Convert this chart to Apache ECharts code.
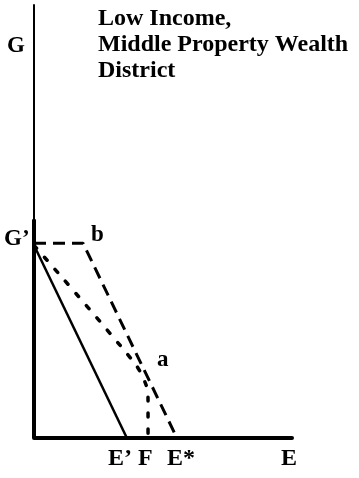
<!DOCTYPE html>
<html>
<head>
<meta charset="utf-8">
<script src="https://cdn.jsdelivr.net/npm/echarts@6/dist/echarts.min.js"></script>
<style>
  html, body { margin: 0; padding: 0; background: #fff; }
  #chart { width: 359px; height: 478px; }
</style>
</head>
<body>
<div id="chart"></div>
<script>
// budget lines, in E (x) / G (y) units
var solidLine = [[0, 44.5], [36, 0]];
var dottedLine = [[0, 44.5], [39, 17.3], [43.6, 12], [44.2, 8.5], [44.2, 0]];
var dashedLine = [[0, 45], [19, 45], [55.4, 0]];
var gAxisThick = [[0, 0], [0, 50.5]];
var titleLines = ['Low Income,', 'Middle Property Wealth', 'District'];

var font = '"Liberation Serif", "Times New Roman", serif';

var myChart = echarts.init(document.getElementById('chart'));

function label(s, x, y, size) {
	return {
		type: 'text', left: x, top: y,
		style: { text: s, font: 'bold ' + size + 'px ' + font, fill: '#000' }
	};
}

var graphics = [];
for (var i = 0; i < titleLines.length; i++) {
	graphics.push(label(titleLines[i], 98, 7 + i * 26, 24));
}
graphics.push(label('G', 7, 35, 23));
graphics.push(label('G’', 4, 228, 23));
graphics.push(label('b', 91, 224, 23));
graphics.push(label('a', 157, 349, 23));
graphics.push(label('E’ F', 108, 447, 24));
graphics.push(label('E*', 167, 447, 24));
graphics.push(label('E', 281, 447, 24));

var option = {
	animation: false,
	grid: { left: 34, right: 67, top: 5, bottom: 40 },
	xAxis: {
		type: 'value', min: 0, max: 100,
		splitLine: { show: false },
		axisTick: { show: false },
		axisLabel: { show: false },
		axisLine: { show: true, onZero: false, lineStyle: { color: '#000', width: 4 } }
	},
	yAxis: {
		type: 'value', min: 0, max: 100,
		splitLine: { show: false },
		axisTick: { show: false },
		axisLabel: { show: false },
		axisLine: { show: true, onZero: false, lineStyle: { color: '#000', width: 2 } }
	},
	graphic: graphics,
	series: [
		{
			type: 'line', data: gAxisThick, symbol: 'none',
			lineStyle: { color: '#000', width: 4 }
		},
		{
			type: 'line', data: solidLine, symbol: 'none',
			lineStyle: { color: '#000', width: 2.5 }
		},
		{
			type: 'line', data: dottedLine, symbol: 'none', smooth: 0.3,
			lineStyle: { color: '#000', width: 3.5, type: [4, 12], cap: 'round' }
		},
		{
			type: 'line', data: dashedLine, symbol: 'none',
			lineStyle: { color: '#000', width: 3, type: [12, 7] }
		}
	]
};
myChart.setOption(option);
</script>
</body>
</html>
